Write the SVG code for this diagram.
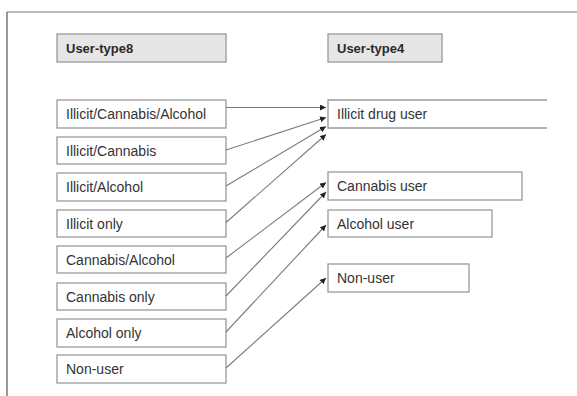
<svg xmlns="http://www.w3.org/2000/svg" width="577" height="396" viewBox="0 0 577 396">
<style>
.box{fill:#fff;stroke:#9a9a9a;stroke-width:1.3}
.hdr{fill:#e6e6e6;stroke:#9a9a9a;stroke-width:1.3}
.t{font-family:"Liberation Sans",Arial,sans-serif;font-size:14px;fill:#333}
.th{font-family:"Liberation Sans",Arial,sans-serif;font-size:13px;font-weight:bold;fill:#2a2a2a}
.c{stroke:#7a7a7a;stroke-width:1.1;fill:none;marker-end:url(#ah)}
</style>
<defs>
<marker id="ah" markerWidth="6" markerHeight="6" refX="6" refY="3" orient="auto" markerUnits="userSpaceOnUse">
<path d="M0,0 L6,3 L0,6 z" fill="#222"/>
</marker>
</defs>
<rect width="577" height="396" fill="#fff"/>
<g id="frame">
<line x1="7" y1="12" x2="577" y2="12" stroke="#777" stroke-width="1.2"/>
<line x1="7" y1="12" x2="7" y2="396" stroke="#555" stroke-width="1.2"/>
</g>
<g id="hdr8"><rect class="hdr" x="57" y="34" width="169" height="28"/><text class="th" x="66" y="53">User-type8</text></g>
<g id="hdr4"><rect class="hdr" x="328" y="34" width="114" height="28"/><text class="th" x="337" y="53">User-type4</text></g>
<g id="l1"><rect class="box" x="57" y="100" width="169" height="28"/><text class="t" x="66" y="119">Illicit/Cannabis/Alcohol</text></g>
<g id="l2"><rect class="box" x="57" y="137" width="169" height="27"/><text class="t" x="66" y="156">Illicit/Cannabis</text></g>
<g id="l3"><rect class="box" x="57" y="173" width="169" height="28"/><text class="t" x="66" y="192">Illicit/Alcohol</text></g>
<g id="l4"><rect class="box" x="57" y="210" width="169" height="27"/><text class="t" x="66" y="229">Illicit only</text></g>
<g id="l5"><rect class="box" x="57" y="246" width="169" height="27"/><text class="t" x="66" y="265">Cannabis/Alcohol</text></g>
<g id="l6"><rect class="box" x="57" y="283" width="169" height="27"/><text class="t" x="66" y="302">Cannabis only</text></g>
<g id="l7"><rect class="box" x="57" y="319" width="169" height="28"/><text class="t" x="66" y="338">Alcohol only</text></g>
<g id="l8"><rect class="box" x="57" y="355" width="169" height="28"/><text class="t" x="66" y="374">Non-user</text></g>
<g id="r1"><path class="box" d="M547,100 H328 V128 H547"/><text class="t" x="337" y="119">Illicit drug user</text></g>
<g id="r2"><rect class="box" x="328" y="172" width="194" height="28"/><text class="t" x="337" y="191">Cannabis user</text></g>
<g id="r3"><rect class="box" x="328" y="210" width="164" height="27"/><text class="t" x="337" y="229">Alcohol user</text></g>
<g id="r4"><rect class="box" x="328" y="264" width="141" height="28"/><text class="t" x="337" y="283">Non-user</text></g>
<g id="connectors">
<line class="c" x1="226" y1="107.5" x2="326" y2="107.5"/>
<line class="c" x1="226" y1="150" x2="326" y2="117.5"/>
<line class="c" x1="226" y1="186" x2="326" y2="126.5"/>
<line class="c" x1="226" y1="222.5" x2="326" y2="134.5"/>
<line class="c" x1="226" y1="258" x2="326" y2="182.5"/>
<line class="c" x1="226" y1="296" x2="326" y2="192"/>
<line class="c" x1="226" y1="332" x2="326" y2="225"/>
<line class="c" x1="226" y1="368" x2="326" y2="278"/>
</g>
</svg>
